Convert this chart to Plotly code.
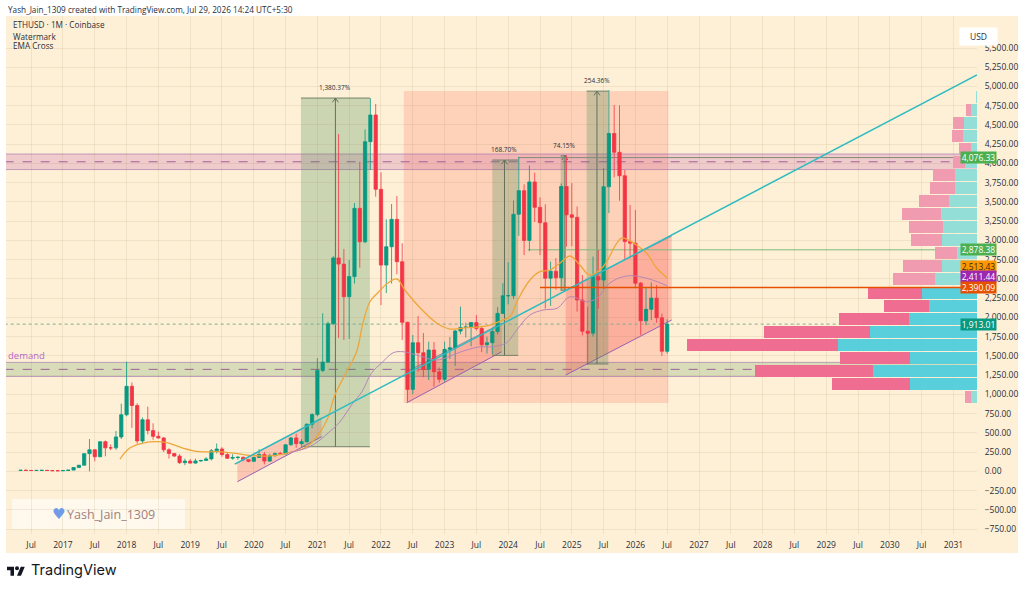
import plotly.graph_objects as go

W, H = 1024, 589
PLOT_L, PLOT_R, PLOT_T, PLOT_B = 6, 977, 16, 534

# Monthly bars, month 0 = Jan 2017
months = list(range(-8, 115))
opens = [12, 14, 12, 11, 12, 13, 11, 8,
         8, 10.5, 16, 50, 80, 230, 280, 190, 385, 305, 305, 447,
         735, 1105, 855, 395, 670, 530, 455, 433, 280, 232, 198, 113,
         133, 107, 135, 141, 162, 268, 290, 218, 171, 180, 183, 152,
         130, 180, 218, 133, 206, 231, 226, 345, 434, 360, 386, 613,
         737, 1311, 1420, 1918, 2772, 2693, 2269, 2530, 3417, 2983, 4283, 4630,
         3664, 2680, 2918, 3274, 2724, 1936, 1065, 1671, 1541, 1325, 1576, 1294,
         1196, 1585, 1605, 1823, 1870, 1874, 1934, 1856, 1645, 1671, 1816, 2052,
         2281, 2282, 3340, 3647, 3000, 3760, 3430, 3230, 2510, 2600, 2515, 3700,
         3333, 3300, 2226, 1820, 1795, 2528, 2486, 3697, 4390, 4145, 3840, 2985,
         2965, 2445, 1955, 2105, 2250, 1995, 1560]
highs = [14.5, 21, 15, 12, 14, 13, 11, 9,
         11.5, 16, 55, 82, 230, 420, 290, 390, 400, 350, 525, 880,
         1424, 1155, 885, 700, 840, 625, 515, 445, 300, 235, 225, 165,
         160, 165, 150, 185, 290, 362, 315, 240, 222, 197, 192, 155,
         187, 288, 252, 228, 245, 255, 348, 445, 490, 420, 622, 755,
         1470, 2053, 1945, 2797, 4383, 2890, 2745, 3486, 4023, 4443, 4850, 4773,
         3885, 3274, 3473, 3577, 2963, 1944, 1771, 2018, 1797, 1684, 1680, 1350,
         1684, 1745, 1840, 2140, 1930, 1930, 2030, 1880, 1750, 1865, 2135, 2445,
         2717, 3520, 4085, 3730, 3975, 3880, 3560, 3470, 2725, 2770, 3740, 4107,
         3745, 3440, 2550, 2140, 2790, 2880, 3940, 4955, 4760, 4755, 3915, 3460,
         3395, 2460, 2380, 2455, 2420, 2050, 1975]
lows = [10, 11, 10, 9, 11, 10, 8, 6,
        8, 10, 15.5, 42, 77, 0.1, 130, 185, 195, 275, 280, 420,
        715, 565, 360, 360, 480, 410, 430, 250, 165, 190, 95, 80,
        100, 102, 125, 135, 142, 232, 190, 160, 151, 150, 132, 117,
        127, 178, 90, 125, 187, 215, 225, 334, 307, 335, 373, 560,
        714, 1290, 1410, 1900, 1732, 1706, 1720, 2440, 2645, 2963, 3915, 3568,
        2160, 2316, 2440, 2560, 1706, 904, 1004, 1294, 1225, 1186, 1100, 1150,
        1164, 1460, 1370, 1780, 1740, 1625, 1830, 1550, 1530, 1520, 1780, 2045,
        2170, 2240, 3060, 2810, 2860, 3240, 2810, 2115, 2150, 2360, 2350, 2920,
        2925, 2075, 1765, 1385, 1750, 2112, 2370, 3355, 3820, 3516, 2745, 2770,
        2390, 1770, 1900, 1965, 1930, 1500, 1530]
closes = [14, 12, 11, 12, 13, 11, 8, 8,
          10.5, 16, 50, 80, 230, 280, 190, 385, 305, 305, 447, 735,
          1105, 855, 395, 670, 530, 455, 433, 280, 232, 198, 113, 133,
          107, 135, 141, 162, 268, 290, 218, 171, 180, 183, 152, 130,
          180, 218, 133, 206, 231, 226, 345, 434, 360, 386, 613, 737,
          1311, 1420, 1918, 2772, 2693, 2269, 2530, 3417, 2983, 4283, 4630, 3664,
          2680, 2918, 3274, 2724, 1936, 1065, 1671, 1541, 1325, 1576, 1294, 1196,
          1585, 1605, 1823, 1870, 1874, 1934, 1856, 1645, 1671, 1816, 2052, 2281,
          2282, 3340, 3647, 3000, 3760, 3430, 3230, 2510, 2600, 2515, 3700, 3333,
          3300, 2226, 1820, 1795, 2528, 2486, 3697, 4390, 4145, 3840, 2985, 2965,
          2445, 1955, 2105, 2250, 1995, 1560, 1913]

# EMA Cross, fast line
ema_fast_x = [10.75, 12.6, 15.1, 17.7, 19.6, 22.6, 25.8, 29.1, 32.1, 34.7, 38.5, 41.5, 46, 47.9, 49.8,
              51.3, 53.5, 55.4, 56.6, 57.9, 59.4, 61.3, 63, 64.5, 67.4, 70.5, 73, 75.5, 78.1, 80.6,
              82.5, 84.3, 85.8, 88.1, 90, 91.9, 93.8, 95.7, 97.5, 99.4, 101.9, 104.5, 105.5, 108.2,
              110.1, 112, 114]
ema_fast_y = [160, 303, 368, 385, 372, 303, 255, 255, 238, 212, 199, 225, 320, 450, 667,
              991, 1294, 1554, 1927, 2204, 2321, 2447, 2499, 2356, 2122, 1927, 1849, 1862, 1875, 1901,
              1953, 2009, 2226, 2486, 2594, 2616, 2707, 2798, 2681, 2551, 2659, 2966, 3032, 2941,
              2836, 2642, 2513.43]

# EMA Cross, slow line
ema_slow_x = [42.8, 46, 48.5, 50, 52.1, 54.7, 56.4, 58.2, 60.1, 62.3, 64.2, 67.4, 70.5, 75.5, 78.7,
              81.1, 83.7, 85.6, 88.1, 90.6, 93.2, 95.7, 98.8, 100.7, 103.2, 105.7, 107.9, 110.8, 114]
ema_slow_y = [247, 303, 407, 498, 631, 887, 1034, 1277, 1407, 1541, 1554, 1498, 1446, 1563, 1619,
              1619, 1671, 1836, 2031, 2096, 2118, 2269, 2204, 2248, 2447, 2529, 2538, 2495, 2411.44]

# Visible-range volume profile rows
profile_price = [4866, 4697, 4527, 4358, 4188, 4019, 3849, 3680, 3510, 3341, 3171, 3002,
                 2832, 2662, 2493, 2323, 2154, 1984, 1815, 1645, 1476, 1306, 1136, 967]
profile_up = [1, 5.7, 13.4, 14.4, 5.7, 11.7, 21.7, 21.7, 27.7, 35.7, 33.7, 35,
              20.4, 35.4, 41.7, 55.4, 47.7, 67.7, 107, 138.7, 67, 104.4, 66.7, 5.7]
profile_down = [0, 5.3, 11, 10.6, 12, 12, 22, 25, 30, 39.3, 34.7, 31.4,
                21.3, 39, 42.7, 53.3, 45.7, 70, 105.7, 151.7, 69.7, 117.6, 78.3, 6.7]
value_area = [0] * 15 + [1] * 8 + [0]

tick_prices = list(range(-750, 5501, 250))
tick_price_labels = [f"{p:,.2f}".replace("-", "\u2212") for p in tick_prices]
tick_months = list(range(-6, 169, 6))
tick_month_labels = ["Jul" if m % 12 else str(2017 + m // 12) for m in tick_months]

# (label, price, fill, text colour, pixel nudge to avoid overlap)
price_tags = [
    ("4,076.33", 4076.33, "#4caf50", "#ffffff", 0),
    ("2,878.38", 2878.38, "#4caf50", "#ffffff", 0),
    ("2,513.43", 2513.43, "#ff9800", "#3a2a10", 11),
    ("2,411.44", 2411.44, "#9c27b0", "#ffffff", 9),
    ("2,390.09", 2390.09, "#e65100", "#ffffff", 0),
    ("1,913.01", 1913.01, "#089981", "#ffffff", 0),
]

# (label, first month, last month, measure month, low, high)
measures = [
    ("1,380.37%", 44.9, 57.9, 51.4, 320, 4850),
    ("168.70%", 81.0, 85.9, 83.3, 1507, 4045),
    ("74.15%", 93.9, 94.9, 94.7, 2354, 4100),
    ("254.36%", 98.8, 102.9, 100.75, 1395, 4940),
]

# (left month, right month, lower start, lower end, upper start, upper end)
channels = [
    (32.9, 48.8, -135, 450, 108, 693),
    (64.85, 82.8, 891, 1554, 1297, 1923),
    (94.85, 114.85, 1251, 1966, 2356, 3057),
]

FONT = "Open Sans, Noto Sans, sans-serif"
TEXT = "#2a2e39"


def px_x(v):
    return v / W


def px_y(v):
    return 1 - v / H


shapes = [
    dict(type="rect", xref="paper", yref="paper", x0=px_x(6), x1=px_x(1018), y0=px_y(553), y1=px_y(16),
         fillcolor="#fef0d6", line_width=0, layer="below"),
    dict(type="rect", xref="paper", yref="paper", x0=px_x(12), x1=px_x(185), y0=px_y(529), y1=px_y(499),
         fillcolor="rgba(255,255,255,0.55)", line_width=0, layer="below"),
    dict(type="rect", x0=64.3, x1=114.2, y0=887, y1=4942,
         fillcolor="rgba(255,90,70,0.2)", line_width=0, layer="below"),
]


def zone(low, high, mid, fill):
    shapes.append(dict(type="rect", x0=-11, x1=173, y0=low, y1=high, fillcolor=fill,
                       line=dict(color="rgba(150,100,170,0.55)", width=1), layer="below"))
    shapes.append(dict(type="line", x0=-11, x1=173, y0=mid, y1=mid,
                       line=dict(color="#a0609a", width=1, dash="dash"), layer="below"))


zone(3921, 4123, 4022, "rgba(200,90,170,0.25)")
zone(1232, 1416, 1325, "rgba(120,170,110,0.28)")

for x0, x1, lo0, lo1, up0, up1 in channels:
    shapes.append(dict(type="path",
                       path=f"M{x0},{lo0} L{x1},{lo1} L{x1},{up1} L{x0},{up0} Z",
                       fillcolor="rgba(245,70,70,0.25)", line_width=0, layer="below"))
    shapes.append(dict(type="line", x0=x0, x1=x1, y0=lo0, y1=lo1,
                       line=dict(color="#9c5fb5", width=1), layer="below"))
    shapes.append(dict(type="line", x0=x0, x1=x1, y0=up0, y1=up1,
                       line=dict(color="#7e8fb0", width=1), layer="below"))

annotations = []
for label, x0, x1, xm, low, high in measures:
    shapes.append(dict(type="rect", x0=x0, x1=x1, y0=low, y1=high,
                       fillcolor="rgba(70,140,80,0.27)", line_width=0, layer="below"))
    shapes.append(dict(type="line", x0=x0, x1=x1, y0=high, y1=high,
                       line=dict(color="#75806c", width=1), layer="below"))
    shapes.append(dict(type="line", x0=x0, x1=x1, y0=low, y1=low,
                       line=dict(color="#75806c", width=1), layer="below"))
    shapes.append(dict(type="line", x0=xm, x1=xm, y0=low, y1=high,
                       line=dict(color="#65705f", width=1), layer="below"))
    shapes.append(dict(type="path",
                       path=f"M{xm - 0.55},{high - 55} L{xm},{high} L{xm + 0.55},{high - 55}",
                       line=dict(color="#65705f", width=1), layer="below"))
    annotations.append(dict(x=xm, y=high, text=label, showarrow=False, yanchor="bottom", yshift=4,
                            font=dict(family=FONT, size=6.5, color=TEXT)))

# Trend line, level lines
shapes += [
    dict(type="line", x0=32.4, x1=172.45, y0=95, y1=5150,
         line=dict(color="#2fbcc0", width=1.5), layer="above"),
    dict(type="line", x0=87.7, x1=172.45, y0=2878.38, y1=2878.38,
         line=dict(color="#7dbb7a", width=1), layer="below"),
    dict(type="line", x0=85.9, x1=172.45, y0=4076.33, y1=4076.33,
         line=dict(color="#7f8d78", width=1), layer="below"),
    dict(type="line", x0=90, x1=172.45, y0=2390.09, y1=2390.09,
         line=dict(color="#e65100", width=1.5), layer="above"),
    dict(type="line", x0=-11, x1=172.45, y0=1913.01, y1=1913.01,
         line=dict(color="#7fae8c", width=1, dash="dot"), layer="below"),
]

# TradingView mark
LOGO_X, LOGO_Y, LOGO_S = 7, 564.7, 0.5


def logo_pt(u, v):
    return f"{px_x(LOGO_X + u * LOGO_S):.5f},{px_y(LOGO_Y + v * LOGO_S):.5f}"


shapes.append(dict(type="path", xref="paper", yref="paper",
                   path="M" + " L".join(logo_pt(u, v) for u, v in [(14, 22), (7, 22), (7, 11), (0, 11), (0, 4), (14, 4)]) + " Z",
                   fillcolor="#131722", line_width=0))
shapes.append(dict(type="path", xref="paper", yref="paper",
                   path="M" + " L".join(logo_pt(u, v) for u, v in [(28, 22), (20, 22), (27.5, 4), (35.5, 4)]) + " Z",
                   fillcolor="#131722", line_width=0))
shapes.append(dict(type="circle", xref="paper", yref="paper",
                   x0=px_x(LOGO_X + 16 * LOGO_S), x1=px_x(LOGO_X + 24 * LOGO_S),
                   y0=px_y(LOGO_Y + 11 * LOGO_S), y1=px_y(LOGO_Y + 3 * LOGO_S),
                   fillcolor="#131722", line_width=0))


def paper_text(text, x, y, size, color=TEXT, anchor="left", family=FONT):
    annotations.append(dict(xref="paper", yref="paper", x=px_x(x), y=px_y(y), text=text, showarrow=False,
                            xanchor=anchor, yanchor="middle", font=dict(family=family, size=size, color=color)))


paper_text("Yash_Jain_1309 created with TradingView.com, Jul 29, 2026 14:24 UTC+5:30", 6, 9, 8.2)
paper_text("ETHUSD \u00b7 1M \u00b7 Coinbase", 11, 25, 8.2)
paper_text("Watermark", 11, 36, 8.2)
paper_text("EMA Cross", 11, 46, 8.2)
paper_text("demand", 6, 355, 9.5, color="#ba68c8")
paper_text("\u2665", 50, 514, 15, color="#6f9be8", family="DejaVu Sans")
paper_text("Yash_Jain_1309", 65, 514, 12.5, color="#a08080")
paper_text("TradingView", 29, 570, 14.5, color="#131722", family="Inter, Liberation Sans, sans-serif")

annotations.append(dict(xref="paper", yref="paper", x=px_x(997.5), y=px_y(26.5), text="USD", showarrow=False,
                        width=35, height=15, bgcolor="#ffffff", font=dict(family=FONT, size=8.5, color=TEXT)))

for label, price, fill, ink, nudge in price_tags:
    annotations.append(dict(xref="paper", yref="y", x=px_x(996.7), y=price, yshift=nudge, text=label,
                            showarrow=False, width=35, height=11, borderpad=0, bgcolor=fill,
                            font=dict(family=FONT, size=8.5, color=ink)))

UP_STRONG, UP_PALE = "#5acfdc", "#93dfd8"
DOWN_STRONG, DOWN_PALE = "#f06d92", "#f19bb0"

fig = go.Figure()
fig.add_trace(go.Bar(
    y=profile_price, x=profile_up, orientation="h", xaxis="x2", yaxis="y", width=156,
    marker=dict(color=[UP_STRONG if v else UP_PALE for v in value_area], line_width=0),
    hoverinfo="skip", showlegend=False))
fig.add_trace(go.Bar(
    y=profile_price, x=profile_down, orientation="h", xaxis="x2", yaxis="y", width=156,
    marker=dict(color=[DOWN_STRONG if v else DOWN_PALE for v in value_area], line_width=0),
    hoverinfo="skip", showlegend=False))
fig.add_trace(go.Candlestick(
    x=months, open=opens, high=highs, low=lows, close=closes, whiskerwidth=0,
    increasing=dict(line=dict(color="#089981", width=0.8), fillcolor="#089981"),
    decreasing=dict(line=dict(color="#f23645", width=0.8), fillcolor="#f23645"),
    hoverinfo="skip", showlegend=False))
fig.add_trace(go.Scatter(x=ema_fast_x, y=ema_fast_y, mode="lines", line=dict(color="#eea63a", width=1.3, shape="spline"),
                         hoverinfo="skip", showlegend=False))
fig.add_trace(go.Scatter(x=ema_slow_x, y=ema_slow_y, mode="lines", line=dict(color="#b487b8", width=1, shape="spline"),
                         hoverinfo="skip", showlegend=False))

GRID = "rgba(150,120,70,0.12)"
fig.update_layout(
    width=W, height=H, margin=dict(l=0, r=0, t=0, b=0),
    paper_bgcolor="#ffffff", plot_bgcolor="rgba(0,0,0,0)",
    barmode="stack", boxgap=0.12, showlegend=False,
    font=dict(family=FONT, size=8.5, color=TEXT),
    shapes=shapes, annotations=annotations,
    xaxis=dict(domain=[px_x(PLOT_L), px_x(PLOT_R)], range=[-10.75, 172.45], rangeslider=dict(visible=False),
               tickmode="array", tickvals=tick_months, ticktext=tick_month_labels, showgrid=True, gridcolor=GRID,
               gridwidth=1, zeroline=False, showline=False, ticks="outside", ticklen=3, tickcolor="rgba(0,0,0,0)",
               tickfont=dict(family=FONT, size=8.5, color=TEXT)),
    xaxis2=dict(overlaying="x", range=[971, 0], visible=False, anchor="y", fixedrange=True),
    yaxis=dict(domain=[px_y(PLOT_B), px_y(PLOT_T)], range=[-814, 5916], side="right", anchor="x",
               tickmode="array", tickvals=tick_prices, ticktext=tick_price_labels, showgrid=True, gridcolor=GRID,
               gridwidth=1, zeroline=False, showline=False, ticks="outside", ticklen=5, tickcolor="rgba(0,0,0,0)",
               tickfont=dict(family=FONT, size=8.5, color=TEXT)),
)

fig.write_html("out.html", config=dict(displayModeBar=False))
